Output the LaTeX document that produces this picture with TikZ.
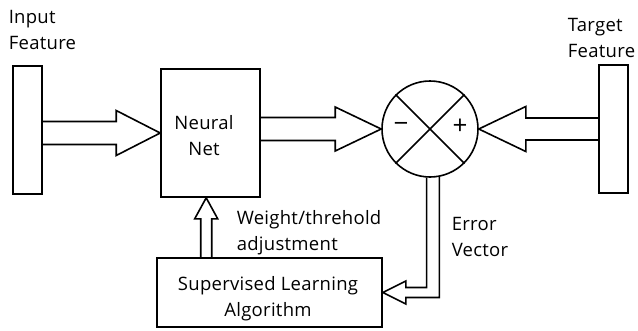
\documentclass[tikz,border=0pt]{standalone}
\usepackage{fontspec}
\setmainfont[LetterSpace=1.5]{Open Sans}
\usetikzlibrary{calc}
\begin{document}
\begin{tikzpicture}[x=1pt, y=-1pt, line width=1.6pt,
  bar/.style={draw, minimum width=29pt, minimum height=128pt, inner sep=0pt},
  lbl/.style={inner sep=0pt, align=left, font=\fontsize{18.5}{26}\selectfont},
  sign/.style={inner sep=0pt, font=\fontsize{26}{26}\selectfont}]
\useasboundingbox (0,0) rectangle (638,330);

% feature bars
\node[bar] (inbar) at (27.5,130) {};
\node[bar] (tbar) at (613.5,129) {};

% network, comparator, learning block
\node[draw, minimum width=99pt, minimum height=128pt, inner sep=0pt] (nn) at (210.5,133) {};
\node[draw, circle, minimum size=96pt, inner sep=0pt] (sum) at (430,129) {};
\node[draw, minimum width=225pt, minimum height=69pt, inner sep=0pt] (sla) at (269.5,292.5) {};

\draw (sum.45) -- (sum.225);
\draw (sum.135) -- (sum.-45);
\node[sign] (minus) at (401,127) {−};
\node[sign] (plus) at (460,127) {+};

% labels (anchored on the baseline of their last line)
\node[lbl, anchor=base west] (inlbl) at (8,49) {Input\\Feature};
\node[lbl, anchor=base east] (tlbl) at (636,57) {Target\\Feature};
\node[lbl, align=center, anchor=base] (nnlbl) at (204,155) {Neural\\Net};
\node[lbl, anchor=base west] (wlbl) at (236,250) {Weight/threhold\\adjustment};
\node[lbl, anchor=base west] (elbl) at (451,256) {Error\\Vector};
\node[lbl, align=center, anchor=base] (slalbl) at (268,316) {Supervised Learning\\Algorithm};

% input feature -> network
\path (nn.west) ++(-44,-11.5) coordinate (i1) ++(0,-11) coordinate (i2)
      ++(0,45) coordinate (i3) ++(0,-11) coordinate (i4);
\draw (inbar.east |- i1) -- (i1) -- (i2) -- (nn.west) -- (i3) -- (i4) -- (inbar.east |- i4);

% network -> comparator
\path (sum.west) ++(-46,-11.5) coordinate (o1) ++(0,-10.5) coordinate (o2)
      ++(0,44) coordinate (o3) ++(0,-10.5) coordinate (o4);
\draw (nn.east |- o1) -- (o1) -- (o2) -- (sum.west) -- (o3) -- (o4) -- (nn.east |- o4);

% target feature -> comparator
\path (sum.east) ++(47,-11) coordinate (t1) ++(0,-11.5) coordinate (t2)
      ++(0,45) coordinate (t3) ++(0,-11.5) coordinate (t4);
\draw (tbar.west |- t1) -- (t1) -- (t2) -- (sum.east) -- (t3) -- (t4) -- (tbar.west |- t4);

% learning block -> network
\coordinate (upTip) at ($(nn.south west)+(46,0)$);
\path (upTip) ++(-5.5,21) coordinate (u1) ++(-6,0) coordinate (u2)
      ++(23,0) coordinate (u3) ++(-6,0) coordinate (u4);
\draw (u1 |- sla.north) -- (u1) -- (u2) -- (upTip) -- (u3) -- (u4) -- (u4 |- sla.north);

% error vector -> learning block
\path (sla.east) ++(23,-5) coordinate (e1) ++(0,-6.5) coordinate (e2)
      ++(0,23) coordinate (e3) ++(0,-6.5) coordinate (e4);
\draw (sum.-94) |- (e1) -- (e2) -- (sla.east) -- (e3) -- (e4) -| (sum.-79);
\end{tikzpicture}
\end{document}
